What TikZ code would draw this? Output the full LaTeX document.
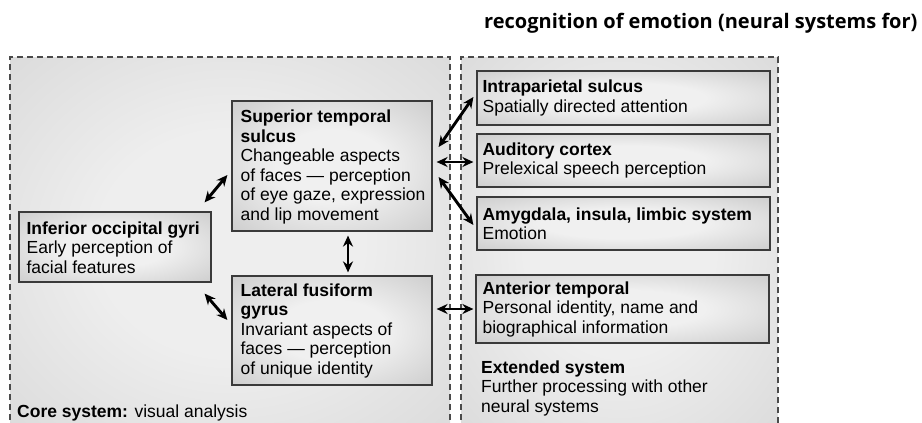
\documentclass[tikz,border=0pt]{standalone}
\usepackage{fontspec}
\setmainfont{Liberation Sans}
\newfontfamily\titlefont{Open Sans}
\usetikzlibrary{arrows.meta,calc}
\definecolor{boxin}{HTML}{F0F0F0}
\definecolor{boxmid}{HTML}{D0D0D0}
\definecolor{boxout}{HTML}{A8A8A8}
\definecolor{panin}{HTML}{EEEEEE}
\definecolor{panout}{HTML}{CACACA}
\definecolor{dashcol}{HTML}{4A4A4A}
\definecolor{edgecol}{HTML}{3A3A3A}
\pgfdeclareradialshading{boxshade}{\pgfpoint{0bp}{0bp}}{color(0bp)=(boxin); color(14bp)=(boxin); color(34bp)=(boxmid); color(52bp)=(boxout); color(75bp)=(boxout)}
\pgfdeclareradialshading{panshade}{\pgfpoint{0bp}{0bp}}{color(0bp)=(panin); color(15bp)=(panin); color(55bp)=(panout); color(75bp)=(panout)}
\begin{document}
\begin{tikzpicture}[x=1pt,y=-1pt,
  region/.style={draw=edgecol,line width=1.2pt,shading=boxshade,rectangle,inner sep=0pt},
  plain/.style={inner sep=0pt,align=left,font=\fontsize{17.5}{19.5}\selectfont},
  panel/.style={dashcol,line width=1.3pt,dash pattern=on 6pt off 4pt},
  link/.style={<->,>={Stealth[length=11pt,width=10pt]},line width=2.9pt,black}]
\useasboundingbox (0,0) rectangle (922,423);
% panels
\fill[shading=panshade] (10,57) rectangle (450,430);
\draw[panel] (10,430) -- (10,57) -- (450,57) -- (450,430);
\fill[shading=panshade] (461,57) rectangle (778,430);
\draw[panel] (461,430) -- (461,57) -- (778,57) -- (778,430);
% title
\node[anchor=base west,inner sep=0pt] (title) at (484,28)
  {\titlefont\fontsize{20}{24}\selectfont\bfseries recognition of emotion (neural systems for)};
% core boxes
\node[region,minimum width=200pt,minimum height=130pt] (sts) at (332,166) {};
\node[plain,anchor=west] (stsT) at ($(sts.west)+(9,1)$)
  {\textbf{Superior temporal}\\\textbf{sulcus}\\Changeable aspects\\of faces --- perception\\of eye gaze, expression\\and lip movement};
\node[region,minimum width=192pt,minimum height=70pt] (iog) at (115,247) {};
\node[plain,anchor=west] (iogT) at ($(iog.west)+(8,0.5)$)
  {\textbf{Inferior occipital gyri}\\Early perception of\\facial features};
\node[region,minimum width=200pt,minimum height=109pt] (lfg) at (332,330.5) {};
\node[plain,anchor=west] (lfgT) at ($(lfg.west)+(9,0)$)
  {\textbf{Lateral fusiform}\\\textbf{gyrus}\\Invariant aspects of\\faces --- perception\\of unique identity};
\node[plain,anchor=base west] (core) at (17,417)
  {\textbf{Core system:} visual analysis};
% extended boxes
\node[region,minimum width=293pt,minimum height=54pt] (ips) at (623.5,98) {};
\node[plain,anchor=west] (ipsT) at ($(ips.west)+(6,0)$)
  {\textbf{Intraparietal sulcus}\\Spatially directed attention};
\node[region,minimum width=293pt,minimum height=53pt] (aud) at (623.5,160.5) {};
\node[plain,anchor=west] (audT) at ($(aud.west)+(6,0)$)
  {\textbf{Auditory cortex}\\Prelexical speech perception};
\node[region,minimum width=293pt,minimum height=53pt] (amy) at (623.5,223.5) {};
\node[plain,anchor=west] (amyT) at ($(amy.west)+(6,0)$)
  {\textbf{Amygdala, insula, limbic system}\\Emotion};
\node[region,minimum width=293pt,minimum height=68pt] (ant) at (622.5,309) {};
\node[plain,anchor=west] (antT) at ($(ant.west)+(7,0)$)
  {\textbf{Anterior temporal}\\Personal identity, name and\\biographical information};
\node[plain,anchor=base west] (ext) at (481,412)
  {\textbf{Extended system}\\Further processing with other\\neural systems};
% connectors
\draw[link] ($(iog.north east)+(-7,-9)$) -- ($(sts.west)+(-4,9)$);
\draw[link] ($(iog.south east)+(-7,11)$) -- ($(lfg.west)+(-4,-10.5)$);
\draw[link] ($(sts.south)+(16,4)$) -- ($(lfg.north)+(16,-3)$);
\draw[link] ($(sts.east)+(6,-19)$) -- ($(ips.west)+(-3,-1)$);
\draw[link] ($(sts.east|-aud.west)+(4,1.5)$) -- ($(aud.west)+(-3,1.5)$);
\draw[link] ($(sts.east)+(6,11)$) -- ($(amy.west)+(-3,1.5)$);
\draw[link] ($(lfg.east|-ant.west)+(4,0)$) -- ($(ant.west)+(-2,0)$);
\end{tikzpicture}
\end{document}
